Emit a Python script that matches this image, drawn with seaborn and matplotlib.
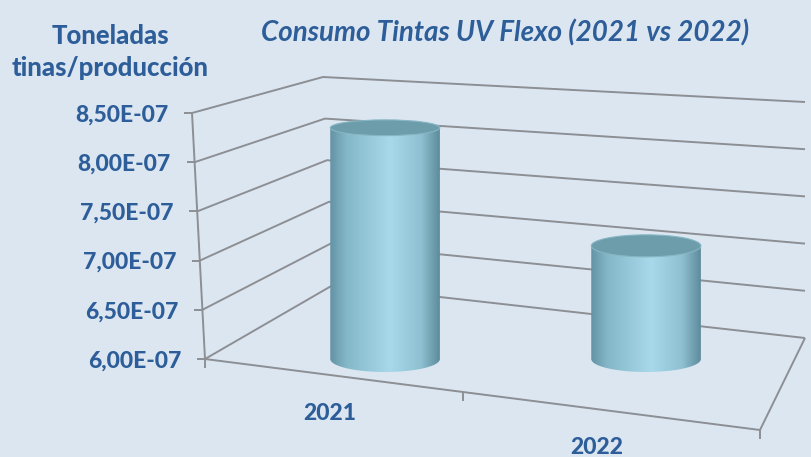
import numpy as np
import pandas as pd
import matplotlib
matplotlib.use("Agg")
import matplotlib.pyplot as plt
import seaborn as sns
from matplotlib.transforms import Affine2D, ScaledTranslation, blended_transform_factory
from matplotlib.lines import Line2D
from matplotlib.patches import Ellipse, PathPatch
from matplotlib.path import Path
from matplotlib.colors import LinearSegmentedColormap

# ---------------- data ----------------
categories = ["2021", "2022"]
values = [8.35e-07, 7.15e-07]
y_ticks = [6.0e-07, 6.5e-07, 7.0e-07, 7.5e-07, 8.0e-07, 8.5e-07]
title = "Consumo Tintas UV Flexo (2021 vs 2022)"
y_title = "Toneladas\ntinas/producción"

# ---------------- style ----------------
BG = "#dce6f1"
TXT = "#2d5e99"
GRID = "#8c8f94"
CAP = "#6d9dab"
WEIGHT = 900

sns.set_theme(style="white")
plt.rcParams["font.family"] = ["Lato", "DejaVu Sans"]

W, H = 811, 457
fig = plt.figure(figsize=(W / 100, H / 100), dpi=100, facecolor=BG)
AX_L, AX_R, AX_T, AX_B = 205, 805, 113, 359
ax = fig.add_axes([AX_L / W, 1 - AX_B / H, (AX_R - AX_L) / W, (AX_B - AX_T) / H])
ax.set_facecolor("none")
for s in ax.spines.values():
    s.set_visible(False)

df = pd.DataFrame({"year": categories, "value": values})
sns.barplot(data=df, x="year", y="value", ax=ax, width=0.42, color="#9fd0e0",
            zorder=3, errorbar=None)

ymin, ymax = y_ticks[0], y_ticks[-1]
XLIM = (-0.69, 1.609)

PX = Affine2D().scale(1 / W, -1 / H).translate(0, 1) + fig.transFigure


def deco(xs, ys, lw=1.4):
    ln = Line2D(xs, ys, transform=PX, color=GRID, lw=lw, zorder=1,
                clip_on=False, solid_capstyle="butt")
    ax.add_artist(ln)


for v in y_ticks:
    t = (v - ymin) / (ymax - ymin)
    xf, yf = AX_L - 13 * t, AX_B - (AX_B - AX_T) * t
    xbl, ybl = 333 - 10 * t, 285 - 208 * t
    xbr, ybr = 805, 338 - 236 * t
    deco([xf, xbl, xbr], [yf, ybl, ybr])
    deco([xf - 8, xf], [yf, yf])
deco([AX_L, AX_L - 13], [AX_B, AX_T])
FR = (760, 430)
deco([AX_L, FR[0], 805], [AX_B, FR[1], 338])
for f in (0.0, 0.465, 1.0):
    x = AX_L + f * (FR[0] - AX_L)
    y = AX_B + f * (FR[1] - AX_B)
    deco([x, x], [y, y + 9])

# ---------------- cylinders ----------------
cmap = LinearSegmentedColormap.from_list(
    "cyl", [(0, "#6393a5"), (0.15, "#84b8c9"), (0.55, "#a8d9ea"),
            (0.83, "#8ec0d1"), (1, "#5d8b9b")])
grad = np.linspace(0, 1, 256).reshape(1, -1)
dpx = (ymax - ymin) / (AX_B - AX_T)

for p in list(ax.patches):
    x0, w, top = p.get_x(), p.get_width(), p.get_height()
    cx = x0 + w / 2
    p.set_y(ymin)
    p.set_height(top - ymin)
    p.set_visible(False)
    fy = (top - ymin) / (ymax - ymin)
    ht = (28 - 13 * fy) * dpx
    hb = 26 * dpx
    th = np.linspace(np.pi, 2 * np.pi, 60)
    verts = [(x0, top), (x0, ymin)]
    verts += list(zip(cx + w / 2 * np.cos(th), ymin + hb / 2 * np.sin(th)))
    verts += [(x0 + w, ymin), (x0 + w, top), (x0, top)]
    clip = PathPatch(Path(verts, closed=True), transform=ax.transData)
    im = ax.imshow(grad, extent=[x0, x0 + w, ymin - hb, top], aspect="auto",
                   cmap=cmap, zorder=3, interpolation="bilinear")
    im.set_clip_box(fig.bbox)
    im.set_clip_path(clip)
    ax.add_patch(Ellipse((cx, top), w, ht, facecolor=CAP, edgecolor="#86b6c4",
                         lw=0.8, zorder=4))

ax.set_xlim(*XLIM)
ax.set_ylim(ymin, ymax)
ax.set_aspect("auto")

# ---------------- text ----------------
ax.set_xlabel("")
ax.set_ylabel("")
ax.set_yticks(y_ticks)
ax.set_yticklabels([f"{v:.2E}".replace(".", ",") for v in y_ticks])
ax.tick_params(axis="y", length=0, pad=17, labelsize=16.5, labelcolor=TXT)
ax.tick_params(axis="x", length=0, labelbottom=False)
for tick, v in zip(ax.yaxis.get_major_ticks(), y_ticks):
    t = (v - ymin) / (ymax - ymin)
    lab = tick.label1
    lab.set_fontweight(WEIGHT)
    lab.set_transform(lab.get_transform() +
                      ScaledTranslation(-13 * t / 100, 0, fig.dpi_scale_trans))

label_offsets = [(-55, -54), (-49, -88)]
bx = blended_transform_factory(ax.transData, ax.transAxes)
for i, (cat, (dx, dy)) in enumerate(zip(categories, label_offsets)):
    ax.text(i, 0, cat, transform=bx + ScaledTranslation(dx / 100, dy / 100, fig.dpi_scale_trans),
            ha="center", va="center", fontsize=16.5, fontweight=WEIGHT, color=TXT)

fig.text(505 / W, 1 - 33 / H, title, ha="center", va="center", fontsize=20,
         fontweight="bold", fontstyle="italic", color=TXT)
fig.text(110 / W, 1 - 52 / H, y_title, ha="center", va="center", fontsize=18.5,
         fontweight=WEIGHT, color=TXT, linespacing=1.45)

fig.savefig("out.png", dpi=100, facecolor=BG)
